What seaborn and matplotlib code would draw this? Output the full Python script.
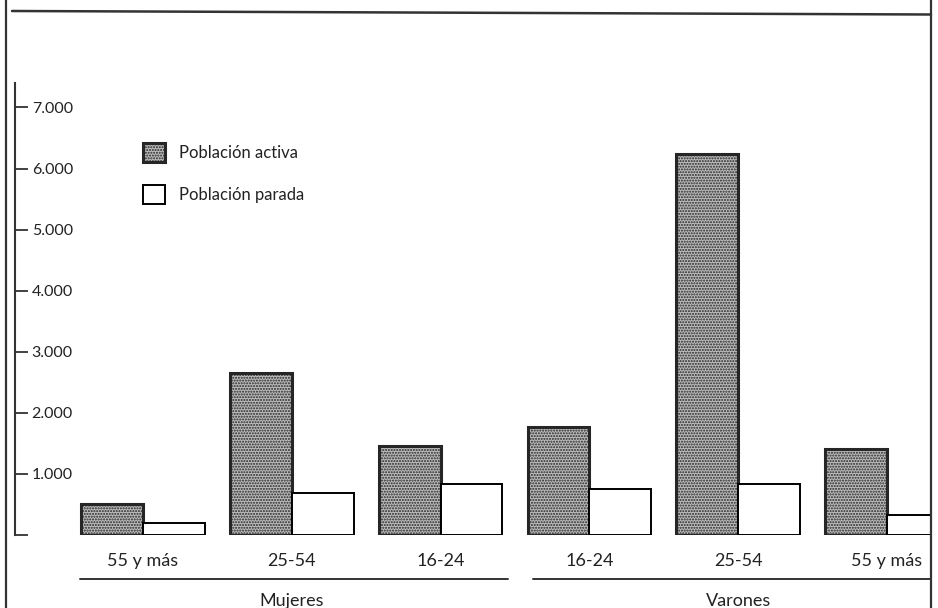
import matplotlib
matplotlib.use('Agg')
import matplotlib.pyplot as plt
import seaborn as sns
import pandas as pd
from matplotlib.lines import Line2D

# datos (miles de personas)
grupos = ['Mujeres', 'Mujeres', 'Mujeres', 'Varones', 'Varones', 'Varones']
edades = ['55 y más', '25-54', '16-24', '16-24', '25-54', '55 y más']
activa = [500, 2650, 1460, 1770, 6230, 1400]
parada = [200, 690, 830, 750, 830, 330]
series = ['Población activa', 'Población parada']
yticks = [0, 1000, 2000, 3000, 4000, 5000, 6000, 7000]
ytick_labels = ['', '1.000', '2.000', '3.000', '4.000', '5.000', '6.000', '7.000']

claves = [g + ' ' + e for g, e in zip(grupos, edades)]
df = pd.DataFrame({
    'clave': claves * 2,
    'serie': [series[0]] * 6 + [series[1]] * 6,
    'valor': activa + parada,
})

sns.set_style('white')
plt.rcParams['font.family'] = ['Lato', 'DejaVu Sans']
plt.rcParams['hatch.linewidth'] = 1.0

fig = plt.figure(figsize=(9.38, 6.08), dpi=100)
ax = fig.add_axes([15 / 938, 1 - 535 / 608, 916 / 938, 452 / 608])

sns.barplot(data=df, x='clave', y='valor', hue='serie', order=claves,
            hue_order=series, palette=['#bcbcbc', 'white'], width=0.83,
            edgecolor='black', linewidth=1.4, errorbar=None, legend=False, ax=ax)

# textura punteada para la poblacion activa
for bar in ax.containers[0]:
    bar.set_hatch('......')
    bar.set_edgecolor('#262626')
    bar.set_linewidth(2.2)

ax.set_xlim(-0.86, 5.296)
ax.set_ylim(0, 7400)
ax.set_xlabel('')
ax.set_ylabel('')

for s in ['top', 'right', 'bottom']:
    ax.spines[s].set_visible(False)
ax.spines['left'].set_linewidth(1.5)
ax.spines['left'].set_color('#333333')

ax.set_yticks(yticks)
ax.set_yticklabels(ytick_labels)
ax.tick_params(axis='y', left=True, direction='in', length=9, width=1.3,
               color='#333333', pad=-12, labelsize=11.5, labelcolor='#222222')
for lab in ax.get_yticklabels():
    lab.set_ha('left')

ax.set_xticks(range(len(edades)))
ax.set_xticklabels(edades)
ax.tick_params(axis='x', bottom=False, length=0, pad=13, labelsize=13,
               labelcolor='#222222')

# lineas y rotulos de grupo
trans = ax.get_xaxis_transform()
ax.plot([-0.42, 2.45], [-0.097, -0.097], color='#333333', lw=1.4,
        transform=trans, clip_on=False)
ax.plot([2.62, 5.296], [-0.097, -0.097], color='#333333', lw=1.4,
        transform=trans, clip_on=False)
ax.text(1, -0.145, 'Mujeres', transform=trans, ha='center', va='center',
        fontsize=13, color='#222222')
ax.text(4, -0.145, 'Varones', transform=trans, ha='center', va='center',
        fontsize=13, color='#222222')

# leyenda
ax.legend(handles=[ax.containers[0][0], ax.containers[1][0]], labels=series,
          loc='upper left', bbox_to_anchor=(0.1397, 0.867), frameon=False,
          borderpad=0, borderaxespad=0, handlelength=1.35, handleheight=1.4,
          labelspacing=1.35, handletextpad=0.8, fontsize=12, labelcolor='#222222')

# marco de la figura
fig.add_artist(Line2D([6 / 938, 6 / 938], [0, 1], color='#333333', lw=1.6,
                      transform=fig.transFigure))
fig.add_artist(Line2D([931 / 938, 931 / 938], [0, 1], color='#333333', lw=1.6,
                      transform=fig.transFigure))
fig.add_artist(Line2D([12 / 938, 931 / 938], [1 - 11 / 608, 1 - 14.5 / 608],
                      color='#333333', lw=1.8, transform=fig.transFigure))

fig.savefig('out.png', dpi=100)
